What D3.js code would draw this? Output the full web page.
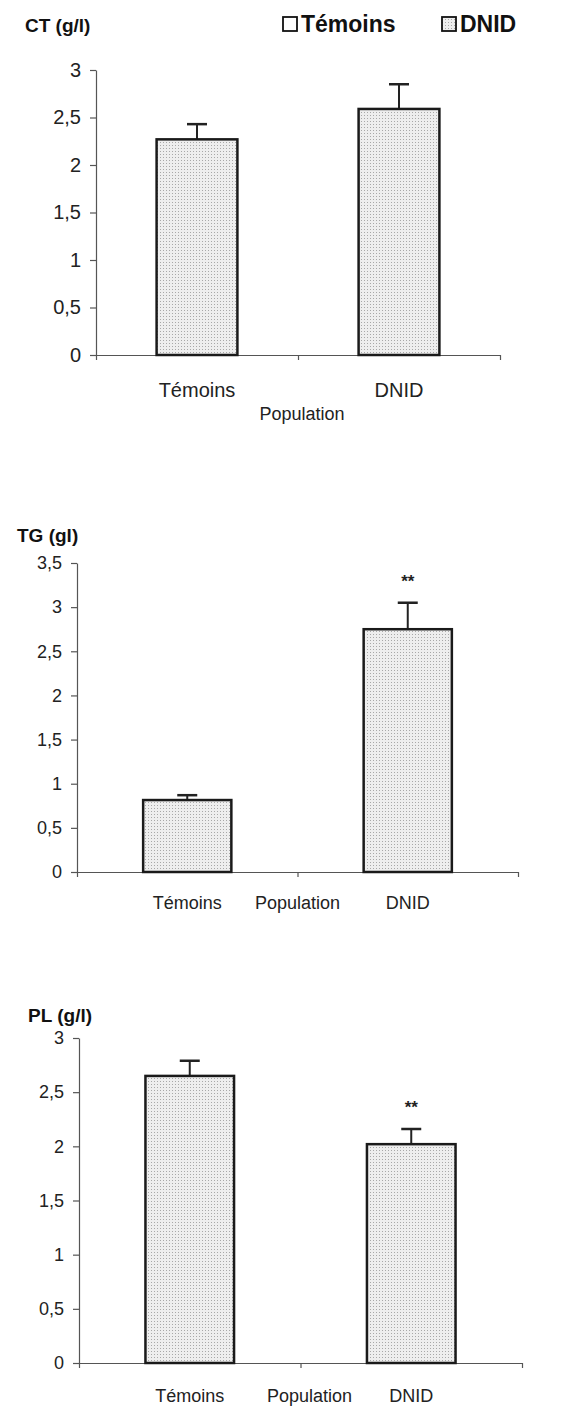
<!DOCTYPE html>
<html>
<head>
<meta charset="utf-8">
<script src="https://cdn.jsdelivr.net/npm/d3@7"></script>
<style>
  body { margin: 0; background: #fff; }
  svg { display: block; font-family: "Liberation Sans", Arial, sans-serif; }
  .axis path, .axis line { stroke: #555; stroke-width: 1.2; }
  .axis text { fill: #222; }
</style>
</head>
<body>
<svg id="chart" width="568" height="1408"></svg>
<script>
// data
const categories = ["Témoins", "DNID"];
const legendLabels = ["Témoins", "DNID"];
const xTitle = "Population";

const ctValues = [2.27, 2.59];
const ctErrors = [0.16, 0.26];
const ctTicks = [0, 0.5, 1, 1.5, 2, 2.5, 3];

const tgValues = [0.815, 2.75];
const tgErrors = [0.055, 0.3];
const tgTicks = [0, 0.5, 1, 1.5, 2, 2.5, 3, 3.5];
const tgStars = ["", "**"];

const plValues = [2.65, 2.02];
const plErrors = [0.14, 0.14];
const plTicks = [0, 0.5, 1, 1.5, 2, 2.5, 3];
const plStars = ["", "**"];

const svg = d3.select("#chart");

// stipple fill like the scanned bars
const defs = svg.append("defs");
const pat = defs.append("pattern")
	.attr("id", "stipple")
	.attr("patternUnits", "userSpaceOnUse")
	.attr("width", 3)
	.attr("height", 3);
pat.append("rect").attr("width", 3).attr("height", 3).attr("fill", "#eeeeee");
pat.append("rect").attr("x", 1).attr("y", 1).attr("width", 1).attr("height", 1).attr("fill", "#a8a8a8");

const fmt = (d) => String(d).replace(".", ",");

function drawPanel(opt) {
	const g = svg.append("g");

	const y = d3.scaleLinear().domain([0, opt.max]).range([opt.y0, opt.yTop]);
	const x = d3.scaleBand().domain(categories).range([opt.x0, opt.x1]).padding(0);
	const bw = x.bandwidth() * 0.4;

	// title
	g.append("text")
		.attr("x", opt.titleX)
		.attr("y", opt.titleY)
		.attr("font-size", 19)
		.attr("font-weight", "bold")
		.attr("fill", "#111")
		.text(opt.title);

	// y axis
	const axisY = d3.axisLeft(y)
		.tickValues(opt.ticks)
		.tickFormat(fmt)
		.tickSize(6)
		.tickSizeOuter(0)
		.tickPadding(9);
	g.append("g")
		.attr("class", "axis")
		.attr("transform", `translate(${opt.x0},0)`)
		.call(axisY)
		.selectAll("text")
		.attr("font-size", opt.tickFont);

	// x axis, ticks at category boundaries
	const xb = d3.scaleLinear().domain([0, categories.length]).range([opt.x0, opt.x1]);
	g.append("g")
		.attr("class", "axis")
		.attr("transform", `translate(0,${opt.y0})`)
		.call(d3.axisBottom(xb).tickValues(d3.range(categories.length + 1)).tickFormat("").tickSize(5).tickSizeOuter(0));

	// error bars
	categories.forEach((c, i) => {
		const cx = x(c) + x.bandwidth() / 2;
		const top = y(opt.values[i]);
		const eTop = y(opt.values[i] + opt.errors[i]);
		g.append("line")
			.attr("x1", cx).attr("x2", cx)
			.attr("y1", top).attr("y2", eTop)
			.attr("stroke", "#222").attr("stroke-width", 2);
		g.append("line")
			.attr("x1", cx - 10).attr("x2", cx + 10)
			.attr("y1", eTop).attr("y2", eTop)
			.attr("stroke", "#222").attr("stroke-width", 2.5);
		if (opt.stars && opt.stars[i]) {
			g.append("text")
				.attr("x", cx)
				.attr("y", eTop - 16)
				.attr("text-anchor", "middle")
				.attr("font-size", 17)
				.attr("font-weight", "bold")
				.attr("fill", "#222")
				.text(opt.stars[i]);
		}
	});

	// bars
	g.selectAll("rect.bar")
		.data(opt.values)
		.join("rect")
		.attr("class", "bar")
		.attr("x", (d, i) => x(categories[i]) + (x.bandwidth() - bw) / 2)
		.attr("y", (d) => y(d))
		.attr("width", bw)
		.attr("height", (d) => y(0) - y(d))
		.attr("fill", "url(#stipple)")
		.attr("stroke", "#1a1a1a")
		.attr("stroke-width", 2.5);

	// category labels
	categories.forEach((c) => {
		g.append("text")
			.attr("x", x(c) + x.bandwidth() / 2)
			.attr("y", opt.catY)
			.attr("text-anchor", "middle")
			.attr("font-size", opt.catFont)
			.attr("fill", "#222")
			.text(c);
	});
	g.append("text")
		.attr("x", (opt.x0 + opt.x1) / 2 + opt.popDx)
		.attr("y", opt.popY)
		.attr("text-anchor", "middle")
		.attr("font-size", opt.popFont)
		.attr("fill", "#222")
		.text(xTitle);
}

drawPanel({
	title: "CT (g/l)", titleX: 25, titleY: 32,
	values: ctValues, errors: ctErrors, ticks: ctTicks, max: 3,
	x0: 96, x1: 500, y0: 355, yTop: 70,
	tickFont: 20, catFont: 20, catY: 397, popFont: 18, popY: 420, popDx: 4
});

drawPanel({
	title: "TG (gl)", titleX: 17, titleY: 542,
	values: tgValues, errors: tgErrors, ticks: tgTicks, max: 3.5, stars: tgStars,
	x0: 77, x1: 518, y0: 872, yTop: 563,
	tickFont: 18, catFont: 18, catY: 909, popFont: 18, popY: 909, popDx: 0
});

drawPanel({
	title: "PL (g/l)", titleX: 28, titleY: 1022,
	values: plValues, errors: plErrors, ticks: plTicks, max: 3, stars: plStars,
	x0: 79, x1: 522, y0: 1363, yTop: 1038,
	tickFont: 18, catFont: 18, catY: 1402, popFont: 18, popY: 1402, popDx: 9
});

// legend
const legend = svg.append("g");
const legendX = [283, 442];
legendLabels.forEach((l, i) => {
	legend.append("rect")
		.attr("x", legendX[i]).attr("y", 17)
		.attr("width", 14).attr("height", 14)
		.attr("fill", i === 0 ? "#fff" : "url(#stipple)")
		.attr("stroke", "#111").attr("stroke-width", 1.8);
	legend.append("text")
		.attr("x", legendX[i] + 18).attr("y", 32)
		.attr("font-size", 23)
		.attr("font-weight", "bold")
		.attr("fill", "#111")
		.text(l);
});
</script>
</body>
</html>
